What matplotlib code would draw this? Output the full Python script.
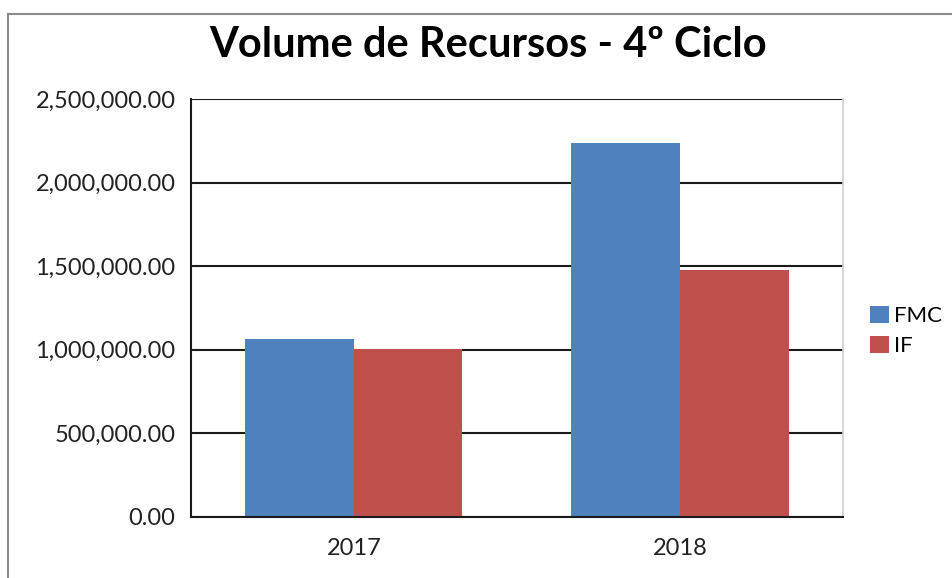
import numpy as np
import matplotlib
matplotlib.use('Agg')
import matplotlib.pyplot as plt
from matplotlib.patches import Rectangle, Patch
from matplotlib.ticker import FuncFormatter

plt.rcParams['font.family'] = ['Lato', 'DejaVu Sans']

anos = ['2017', '2018']
fmc = [1067000, 2240000]
if_vals = [1003000, 1476000]
series = ['FMC', 'IF']
cores = ['#4F81BD', '#C0504D']

fig = plt.figure(figsize=(9.52, 5.78), dpi=100)
ax = fig.add_axes([190.7 / 952, 1 - 516.7 / 578, (843 - 190.7) / 952, (516.7 - 99.3) / 578])

x = np.arange(len(anos))
w = 1 / 3
ax.bar(x - w / 2, fmc, w, color=cores[0], zorder=3)
ax.bar(x + w / 2, if_vals, w, color=cores[1], zorder=3)

ax.set_xlim(-0.5, 1.5)
ax.set_ylim(0, 2500000)
ax.set_yticks(np.arange(0, 2500001, 500000))
ax.yaxis.set_major_formatter(FuncFormatter(lambda v, p: '{:,.2f}'.format(v)))
ax.set_xticks(x)
ax.set_xticklabels(anos)
ax.tick_params(length=0, labelsize=17, colors='#222222')
ax.tick_params(axis='y', pad=11)
ax.tick_params(axis='x', pad=15)
ax.grid(axis='y', color='#1a1a1a', linewidth=1.5, zorder=1)

ax.spines['left'].set_color('#1a1a1a')
ax.spines['left'].set_linewidth(1.5)
ax.spines['bottom'].set_color('#1a1a1a')
ax.spines['bottom'].set_linewidth(1.5)
ax.spines['top'].set_visible(False)
ax.spines['right'].set_color('#d0d0d0')
ax.spines['right'].set_linewidth(1.2)
for s in ax.spines.values():
    s.set_zorder(4)

fig.text(488 / 952, 1 - 45 / 578, 'Volume de Recursos - 4º Ciclo', ha='center', va='center',
         fontsize=30, fontweight='bold', color='black')

handles = [Patch(facecolor=c, label=s) for c, s in zip(cores, series)]
fig.legend(handles=handles, loc='center left', bbox_to_anchor=(870 / 952, 1 - 331 / 578),
           frameon=False, fontsize=16, borderpad=0, handlelength=0.85, handleheight=0.8,
           handletextpad=0.25, labelspacing=0.45, borderaxespad=0)

# moldura do grafico
fig.patches.append(Rectangle((8 / 952, -0.1), 1.1, 1.1 - 14 / 578, transform=fig.transFigure,
                             fill=False, edgecolor='#8c8c8c', linewidth=1.5))

fig.savefig('out.png', dpi=100)
